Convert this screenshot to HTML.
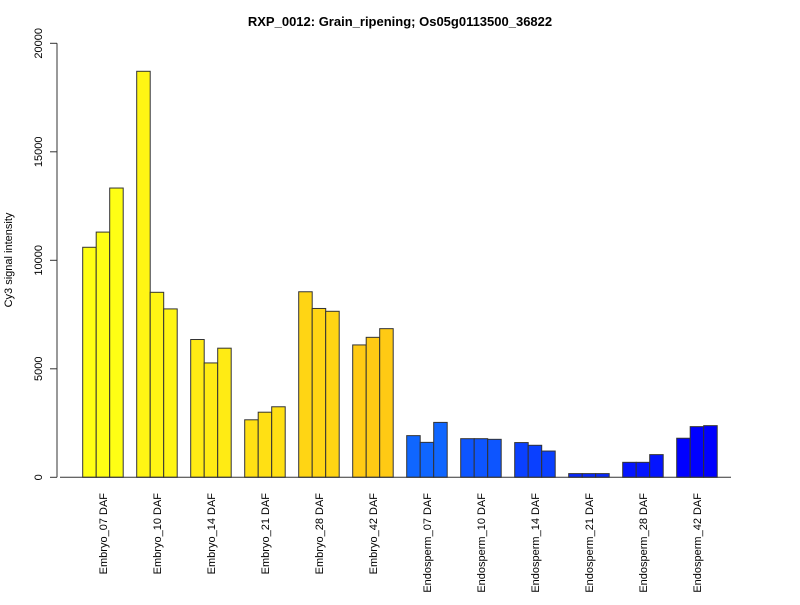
<!DOCTYPE html>
<html><head><meta charset="utf-8"><style>
body{margin:0;background:#fff;}
svg text{font-family:"Liberation Sans",Arial,sans-serif;}
</style></head><body>
<svg id="chart" width="800" height="600" xmlns="http://www.w3.org/2000/svg">
<text x="400" y="26" text-anchor="middle" font-size="13" font-weight="bold">RXP_0012: Grain_ripening; Os05g0113500_36822</text>
<text transform="translate(12,260) rotate(-90)" text-anchor="middle" font-size="11">Cy3 signal intensity</text>
<g id="bars"></g><g id="axes"></g>
</svg>
<script>
const categories=["Embryo_07 DAF","Embryo_10 DAF","Embryo_14 DAF","Embryo_21 DAF","Embryo_28 DAF","Embryo_42 DAF","Endosperm_07 DAF","Endosperm_10 DAF","Endosperm_14 DAF","Endosperm_21 DAF","Endosperm_28 DAF","Endosperm_42 DAF"];
const rep1=[10600,18710,6350,2650,8550,6100,1920,1780,1600,170,690,1800];
const rep2=[11300,8525,5270,3000,7780,6450,1610,1780,1475,170,690,2335];
const rep3=[13330,7760,5950,3250,7650,6850,2530,1750,1210,170,1045,2380];
const groupColors=["#FFFF14","#FFF514","#FFEB14","#FFE014","#FFD514","#FFCA14","#0F66FF","#0D55FF","#0A40FF","#0828FF","#0414FF","#0000FF"];
const yTicks=[0,5000,10000,15000,20000];
const NS="http://www.w3.org/2000/svg";
const y=v=>477.3-v*(434/20000);
const x=(g,r)=>82.7+g*54+r*13.5;
const bars=document.getElementById('bars'),axes=document.getElementById('axes');
function mk(t,a,p){const e=document.createElementNS(NS,t);for(const k in a)e.setAttribute(k,a[k]);p.appendChild(e);return e;}
const series=[rep1,rep2,rep3];
categories.forEach((c,g)=>{
  series.forEach((s,r)=>{
    const b=mk('rect',{x:x(g,r),y:y(s[g]),width:13.5,height:477.3-y(s[g]),fill:groupColors[g],stroke:'#333','stroke-width':1},bars);
    
    
  });
  const cx=x(g,1)+6.75;
  const t=mk('text',{transform:`translate(${cx+4},493) rotate(-90)`,'text-anchor':'end','font-size':'11'},axes);
  t.textContent=c;
  
  
});
const xl=mk('line',{x1:60,x2:731,y1:477.3,y2:477.3,stroke:'#333'},axes);


const yl=mk('line',{x1:57,x2:57,y1:y(0),y2:y(20000),stroke:'#333'},axes);


yTicks.forEach(v=>{
  const tk=mk('line',{x1:50,x2:57,y1:y(v),y2:y(v),stroke:'#333'},axes);
  
  
  const t=mk('text',{transform:`translate(42,${y(v)}) rotate(-90)`,'text-anchor':'middle','font-size':'11'},axes);
  t.textContent=v;
  
  
});
</script>
</body></html>
